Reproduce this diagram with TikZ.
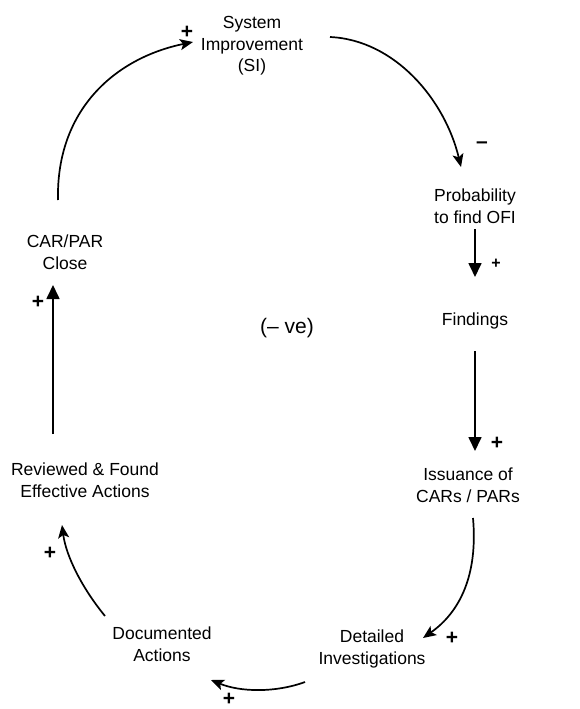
\documentclass[tikz,border=0pt]{standalone}
\usepackage{fontspec}
\setmainfont{Liberation Sans}
\usetikzlibrary{arrows.meta}
\begin{document}
\begin{tikzpicture}[x=1pt,y=-1pt,
  lbl/.style={align=center,inner sep=0pt,font=\fontsize{17.5}{21.5}\selectfont},
  sgn/.style={inner sep=0pt,font=\bfseries\fontsize{21}{22}\selectfont},
  link/.style={line width=1.7pt,-{Stealth[length=13pt,width=11pt,inset=3pt]}},
  straight/.style={line width=1.7pt,-{Triangle[length=14pt,width=13pt]}}]
\path[use as bounding box,fill=white] (0,0) rectangle (580,709);

% variables of the loop
\node[lbl] (si)   at (252,46)  {System\\Improvement\\(SI)};
\node[lbl] (prob) at (475,206) {Probability\\to find OFI};
\node[lbl] (find) at (475,321) {Findings};
\node[lbl] (iss)  at (468,485) {Issuance of\\CARs / PARs};
\node[lbl] (det)  at (372,649) {Detailed\\Investigations};
\node[lbl] (doc)  at (162,644) {Documented\\Actions};
\node[lbl] (rev)  at (85,480)  {Reviewed \& Found\\Effective Actions};
\node[lbl] (clos) at (65,252)  {CAR/PAR\\Close};
\node[inner sep=0pt,font=\fontsize{21}{25}\selectfont] (loop) at (287,328) {(– ve)};

% connector end points
\coordinate (closOut) at (58,200);
\coordinate (siIn)    at (193,42);
\coordinate (siOut)   at (330,37);
\coordinate (probIn)  at (461,167);
\coordinate (probOut) at (475,229);
\coordinate (findIn)  at (475,277);
\coordinate (findOut) at (475,351);
\coordinate (issIn)   at (475,451);
\coordinate (issOut)  at (473,518);
\coordinate (detIn)   at (423,638);
\coordinate (detOut)  at (305,682);
\coordinate (docIn)   at (211,680);
\coordinate (docOut)  at (105,616);
\coordinate (revIn)   at (62,525);
\coordinate (revOut)  at (53,434);
\coordinate (closIn)  at (53,285);

% causal links
\draw[link] (closOut) .. controls (56,110) and (115,58) .. (siIn);
\draw[link] (siOut) .. controls (395,40) and (445,100) .. (probIn);
\draw[straight] (probOut) -- (findIn);
\draw[straight] (findOut) -- (issIn);
\draw[link] (issOut) .. controls (478,575) and (460,612) .. (detIn);
\draw[link] (detOut) .. controls (275,693) and (240,692) .. (docIn);
\draw[link] (docOut) .. controls (82,588) and (66,556) .. (revIn);
\draw[straight] (revOut) -- (closIn);

% link polarities
\node[sgn] (s1) at (187,32)  {+};
\node[sgn] (s2) at (482,145) {–};
\node[sgn,font=\bfseries\fontsize{16}{17}\selectfont] (s3) at (496,264) {+};
\node[sgn] (s4) at (497,443) {+};
\node[sgn] (s5) at (452,638) {+};
\node[sgn] (s6) at (229,699) {+};
\node[sgn] (s7) at (50,553)  {+};
\node[sgn] (s8) at (38,302)  {+};
\end{tikzpicture}
\end{document}
